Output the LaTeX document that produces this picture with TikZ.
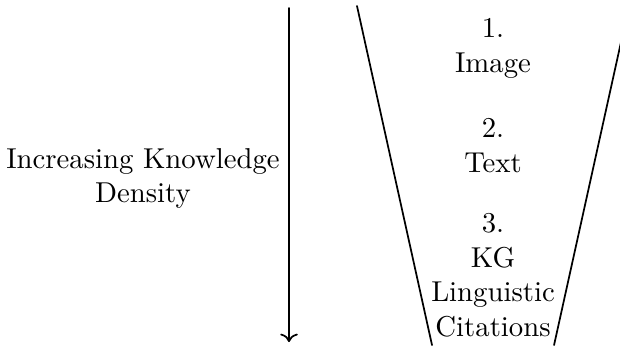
\documentclass[tikz,border=0pt]{standalone}
\usepackage{tikz}
\usetikzlibrary{arrows.meta,positioning,calc}

\tikzset{
  lvl/.style={align=center, inner sep=0pt, anchor=north},
  edge/.style={semithick, line cap=round}
}

\begin{document}
\begin{tikzpicture}
        \useasboundingbox (0,0) rectangle (7.579,4.242);
        % density arrow
        \coordinate (top) at (3.533,4.144);
        \coordinate (bot) at (3.533,0.061);
        \draw[edge,->] (top) -- (bot);
        \node[lvl] (density) at (1.748,2.436) {Increasing Knowledge\\Density};
        % funnel
        \coordinate (ltop) at (4.364,4.169);
        \coordinate (lbot) at (5.281,0.024);
        \coordinate (rtop) at (7.689,4.169);
        \coordinate (rbot) at (6.773,0.024);
        \draw[edge] (ltop) -- (lbot);
        \draw[edge] (rtop) -- (rbot);
        \node[lvl] (image) at (6.027,4.022) {1.\\Image};
        \node[lvl] (text) at (6.027,2.800) {2.\\Text};
        \node[lvl] (kg) at (6.027,1.638) {3.\\KG\\Linguistic\\Citations};
      \end{tikzpicture}
\end{document}
